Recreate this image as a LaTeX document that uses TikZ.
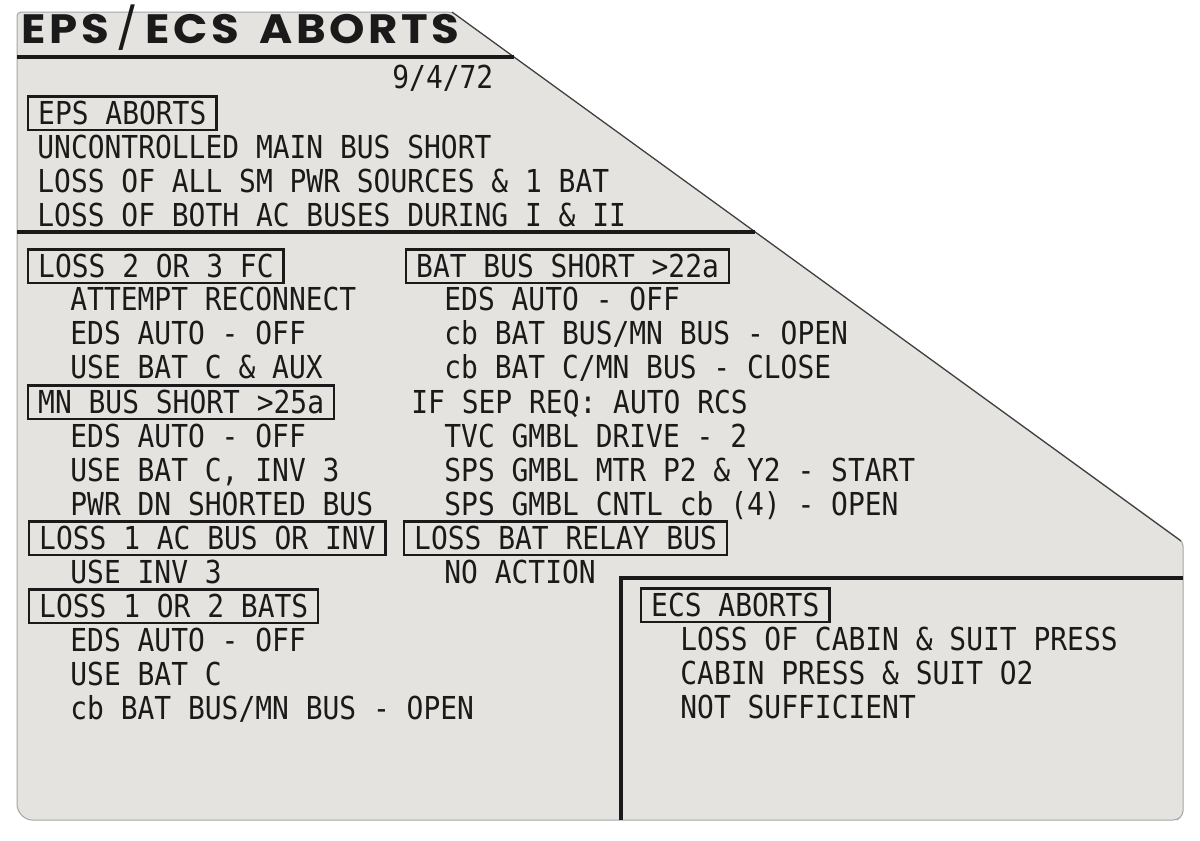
\documentclass[tikz,border=0pt]{standalone}
\usepackage{fontspec}
\usepackage{graphicx}
\setmonofont[FakeStretch=0.884]{DejaVu Sans Mono}
\newfontfamily\titlefont[LetterSpace=8]{Poppins}
\usetikzlibrary{positioning}
\definecolor{card}{RGB}{229,227,223}
\definecolor{ink}{RGB}{26,26,26}

\begin{document}
\begin{tikzpicture}[x=0.5pt,y=-0.5pt]
\tikzstyle{every node}+=[inner sep=0pt,anchor=west,text=ink,font=\ttfamily\fontsize{15.8}{17}\selectfont,text height=11.5pt,text depth=0pt]
\tikzstyle{hdr}=[draw=ink,line width=1.2pt,inner xsep=5pt,inner ysep=2.6pt]
\tikzstyle{rule}=[draw=ink,line width=1.6pt]
\useasboundingbox (0,0) rectangle (1200,841);
\fill [white] (0,0) rectangle (1200,841);
\filldraw [fill=card,draw=black!35,line width=0.5pt,rounded corners=2pt] (17,12) -- (452,12) -- (1183,542) -- (1183,815) -- (1177,820) -- (36,820) .. controls (25,820) and (17,813) .. (17,800) -- cycle;
\draw [black!75,line width=0.6pt] (452,12) -- (1181,541);
\node [anchor=base west,text height=,text depth=] (title) at (21,43) {\resizebox{219pt}{14.6pt}{\titlefont\bfseries EPS\,\smash{\mdseries/}\,ECS\hspace{0.45em}ABORTS}};
\draw [rule,line width=2pt] (17,57) -- (514,57);
\node (date) at (392,77) {9/4/72};
\node [hdr] (eps) at (27,113) {EPS ABORTS};
\node (eps1) at (37,147) {UNCONTROLLED MAIN BUS SHORT};
\node (eps2) at (37,181) {LOSS OF ALL SM PWR SOURCES \& 1 BAT};
\node (eps3) at (37,215) {LOSS OF BOTH AC BUSES DURING I \& II};
\draw [rule] (17,232) -- (755,232);
\node [hdr] (fc) at (27,266) {LOSS 2 OR 3 FC};
\node (fc1) at (70,299) {ATTEMPT RECONNECT};
\node (fc2) at (70,333) {EDS AUTO - OFF};
\node (fc3) at (70,367) {USE BAT C \& AUX};
\node [hdr] (mn) at (27,402) {MN BUS SHORT >25a};
\node (mn1) at (70,436) {EDS AUTO - OFF};
\node (mn2) at (70,470) {USE BAT C, INV 3};
\node (mn3) at (70,504) {PWR DN SHORTED BUS};
\node [hdr] (ac) at (28,538) {LOSS 1 AC BUS OR INV};
\node (ac1) at (70,572) {USE INV 3};
\node [hdr] (bats) at (28,606) {LOSS 1 OR 2 BATS};
\node (bats1) at (70,640) {EDS AUTO - OFF};
\node (bats2) at (70,674) {USE BAT C};
\node (bats3) at (70,708) {cb BAT BUS/MN BUS - OPEN};
\node [hdr] (bb) at (405,266) {BAT BUS SHORT >22a};
\node (bb1) at (444,299) {EDS AUTO - OFF};
\node (bb2) at (444,333) {cb BAT BUS/MN BUS - OPEN};
\node (bb3) at (444,367) {cb BAT C/MN BUS - CLOSE};
\node (sep) at (411,402) {IF SEP REQ: AUTO RCS};
\node (sep1) at (444,436) {TVC GMBL DRIVE - 2};
\node (sep2) at (444,470) {SPS GMBL MTR P2 \& Y2 - START};
\node (sep3) at (444,504) {SPS GMBL CNTL cb (4) - OPEN};
\node [hdr] (relay) at (403,538) {LOSS BAT RELAY BUS};
\node (relay1) at (444,572) {NO ACTION};
\draw [rule] (1183,578) -- (621,578) -- (621,820);
\node [hdr] (ecs) at (640,605) {ECS ABORTS};
\node (ecs1) at (680,639) {LOSS OF CABIN \& SUIT PRESS};
\node (ecs2) at (680,673) {CABIN PRESS \& SUIT O2};
\node (ecs3) at (680,707) {NOT SUFFICIENT};
\end{tikzpicture}
\end{document}
